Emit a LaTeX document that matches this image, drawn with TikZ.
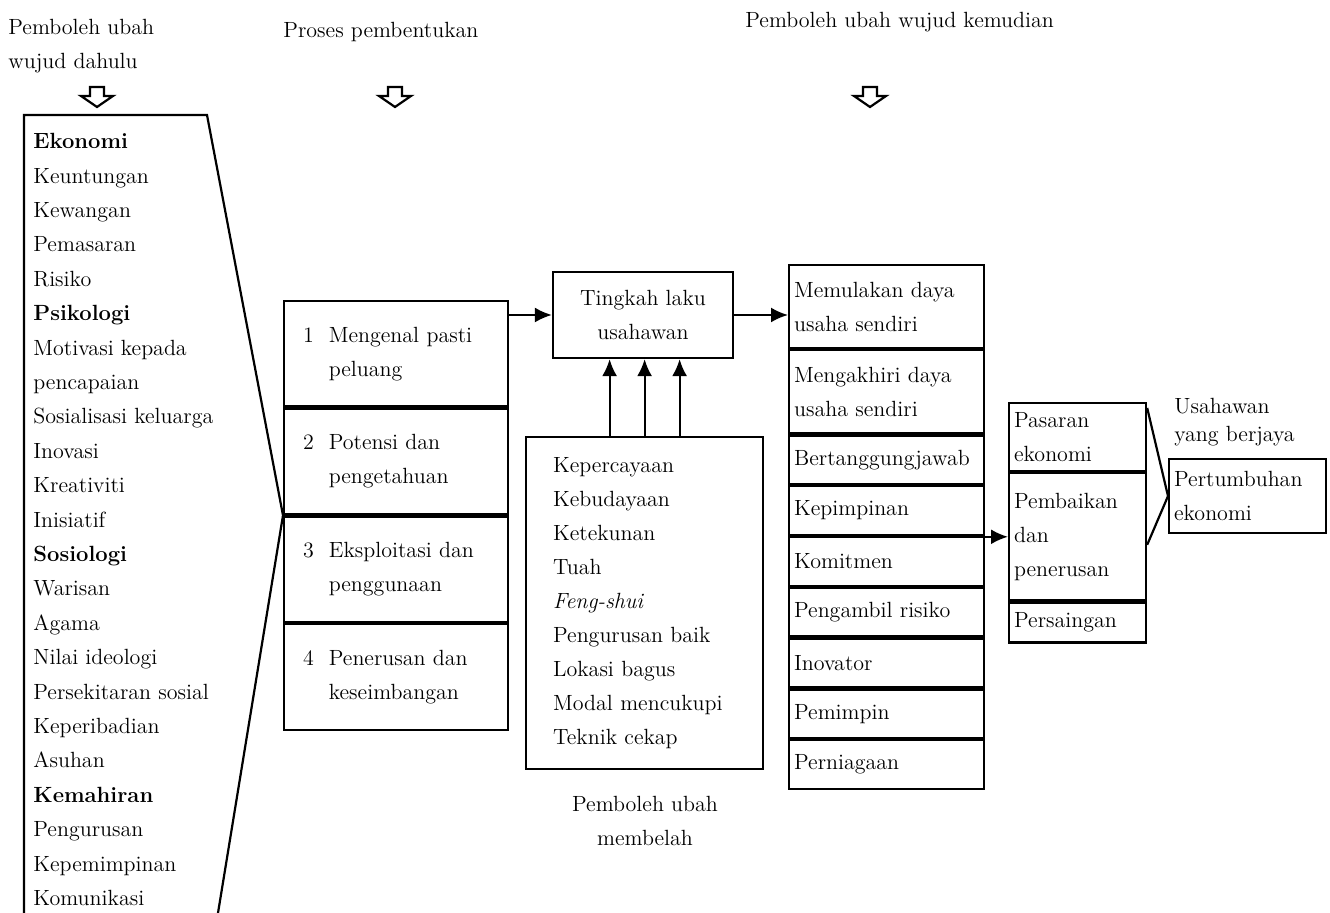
\documentclass[tikz,border=0pt]{standalone}
\usepackage{tikz}
\usetikzlibrary{positioning, arrows.meta}
\tikzstyle{kotak} = [
    rectangle,
    draw=black,
    line width=1.1pt,
    inner ysep=0pt
]
\tikzstyle{proses} = [
    kotak,
    align=left,
    text width=93pt,
    inner xsep=9.5pt,
    minimum height=52.75pt
]
\tikzstyle{hasil} = [
    kotak,
    align=left,
    text width=92.5pt,
    inner xsep=2.5pt,
    minimum height=24.3pt
]
\tikzstyle{pasaran} = [
    kotak,
    align=left,
    text width=63.5pt,
    inner xsep=2.5pt
]
\tikzstyle{label} = [
    inner sep=0pt
]
\tikzstyle{arrow} = [
    line width=1.1pt,
    -{Latex[length=8.5pt, width=7.5pt]}
]

\begin{document}
\begin{tikzpicture}[x=0.5pt, y=-0.5pt, node distance=0pt,
        every node/.style={font=\fontsize{11}{17}\selectfont}]
    \useasboundingbox (0,0) rectangle (1330,913);

    % tajuk atas
    \node[label, anchor=west, align=left] (judul1) at (8,46) {Pemboleh ubah\\wujud dahulu};
    \node[label, anchor=west] (judul2) at (283,32) {Proses pembentukan};
    \node[label, anchor=west] (judul3) at (745,22) {Pemboleh ubah wujud kemudian};
    \foreach \px in {97,395,870}
        \draw[line width=1.1pt] (\px-7,87) -- (\px+7,87) -- (\px+7,96) -- (\px+16,96)
            -- (\px,107) -- (\px-16,96) -- (\px-7,96) -- cycle;

    % pemboleh ubah wujud dahulu
    \node[label, anchor=north west, align=left, font=\fontsize{11}{17.2}\selectfont] (dahulu) at (33,133) {%
        \textbf{Ekonomi}\\ Keuntungan\\ Kewangan\\ Pemasaran\\ Risiko\\
        \textbf{Psikologi}\\ Motivasi kepada\\ pencapaian\\ Sosialisasi keluarga\\
        Inovasi\\ Kreativiti\\ Inisiatif\\
        \textbf{Sosiologi}\\ Warisan\\ Agama\\ Nilai ideologi\\ Persekitaran sosial\\
        Keperibadian\\ Asuhan\\
        \textbf{Kemahiran}\\ Pengurusan\\ Kepemimpinan\\ Komunikasi};

    % proses pembentukan
    \node[proses, anchor=north west] (p1) at (283,300) {1\hspace{7.5pt}Mengenal pasti\\\hphantom{1}\hspace{7.5pt}peluang};
    \node[proses, below=of p1] (p2) {2\hspace{7.5pt}Potensi dan\\\hphantom{2}\hspace{7.5pt}pengetahuan};
    \node[proses, below=of p2] (p3) {3\hspace{7.5pt}Eksploitasi dan\\\hphantom{3}\hspace{7.5pt}penggunaan};
    \node[proses, below=of p3] (p4) {4\hspace{7.5pt}Penerusan dan\\\hphantom{4}\hspace{7.5pt}keseimbangan};

    \coordinate (atas-kiri) at (24,115);
    \coordinate (atas-kanan) at (207,115);
    \coordinate (bawah-kiri) at (24,913);
    \coordinate (bawah-kanan) at (218,913);
    \draw[line width=1.1pt] (bawah-kiri) -- (atas-kiri) -- (atas-kanan) -- (p3.north west) -- (bawah-kanan);

    % tingkah laku
    \node[kotak, minimum width=90pt, minimum height=43pt, align=center] (tingkah) at (643,315) {Tingkah laku\\usahawan};
    \node[kotak, anchor=north west, align=left, text width=91.5pt, inner xsep=13.5pt, minimum height=166pt] (membelah) at (525,436) {%
        Kepercayaan\\ Kebudayaan\\ Ketekunan\\ Tuah\\ \textit{Feng-shui}\\
        Pengurusan baik\\ Lokasi bagus\\ Modal mencukupi\\ Teknik cekap};
    \node[label, align=center] (membelah-label) at (645,821) {Pemboleh ubah\\membelah};

    % pemboleh ubah wujud kemudian
    \node[hasil, anchor=north west, minimum height=41.5pt] (m1) at (788,264) {Memulakan daya\\usaha sendiri};
    \node[hasil, below=of m1, minimum height=41.5pt] (m2) {Mengakhiri daya\\usaha sendiri};
    \node[hasil, below=of m2] (m3) {Bertanggungjawab};
    \node[hasil, below=of m3] (m4) {Kepimpinan};
    \node[hasil, below=of m4] (m5) {Komitmen};
    \node[hasil, below=of m5] (m6) {Pengambil risiko};
    \node[hasil, below=of m6] (m7) {Inovator};
    \node[hasil, below=of m7] (m8) {Pemimpin};
    \node[hasil, below=of m8] (m9) {Perniagaan};

    \node[pasaran, anchor=north west, minimum height=34pt] (g1) at (1008,402) {Pasaran\\ekonomi};
    \node[pasaran, below=of g1, minimum height=63.5pt] (g2) {Pembaikan\\dan\\penerusan};
    \node[pasaran, below=of g2, minimum height=20pt] (g3) {Persaingan};

    \node[kotak, anchor=north west, align=left, text width=73.5pt, inner xsep=2.5pt, minimum height=37pt] (akhir) at (1168,458) {Pertumbuhan\\ekonomi};
    \node[label, anchor=south west, align=left, font=\fontsize{11}{14}\selectfont] (berjaya) at (1174,446) {Usahawan\\yang berjaya};

    % anak panah
    \draw[arrow] (tingkah.west -| p1.east) -- (tingkah.west);
    \draw[arrow] (tingkah.east) -- (tingkah.east -| m1.west);
    \draw[arrow] ([xshift=-17.5pt]membelah.north) -- ([xshift=-17.5pt]membelah.north |- tingkah.south);
    \draw[arrow] (membelah.north) -- (membelah.north |- tingkah.south);
    \draw[arrow] ([xshift=17.5pt]membelah.north) -- ([xshift=17.5pt]membelah.north |- tingkah.south);
    \draw[arrow] (g2.west -| m5.east) -- (g2.west);
    \draw[line width=1.1pt] ([yshift=-3pt]g1.north east) -- (akhir.west) -- ([yshift=-4pt]g2.east);
\end{tikzpicture}
\end{document}
